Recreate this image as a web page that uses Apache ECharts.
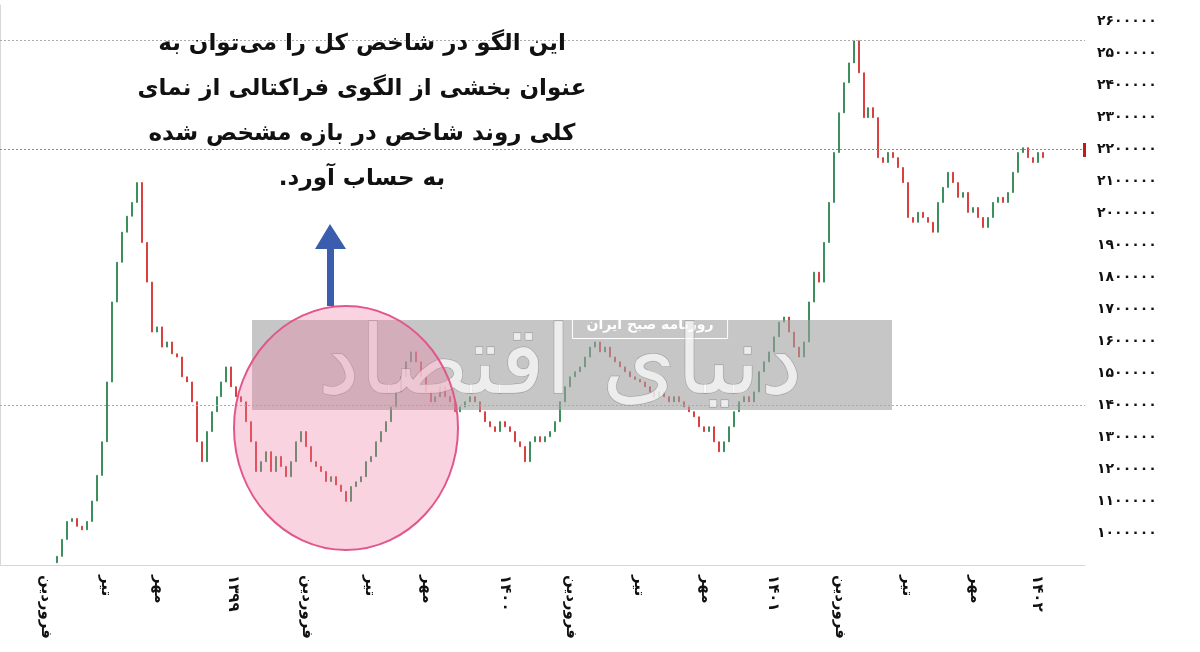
<!DOCTYPE html>
<html lang="fa">
<head>
<meta charset="UTF-8">
<title>شاخص کل</title>
<script src="https://cdn.jsdelivr.net/npm/echarts@6/dist/echarts.min.js"></script>
<style>
html, body {margin: 0; padding: 0; background: #fff;}
#main {width: 1200px; height: 652px;}
</style>
</head>
<body>
<div id="main"></div>
<script>
// closing index values (thousands)
var closes = [927, 980, 1036, 1045, 1021, 1010, 1036, 1100, 1180, 1285, 1472, 1722, 1846, 1940, 1990, 2033, 2095,
  1908, 1784, 1628, 1644, 1581, 1597, 1560, 1550, 1488, 1472, 1410, 1285, 1223, 1317, 1379, 1426, 1472, 1519,
  1457, 1426, 1410, 1348, 1285, 1192, 1223, 1254, 1192, 1239, 1208, 1176, 1223, 1285, 1317, 1270, 1223, 1208,
  1192, 1161, 1176, 1150, 1130, 1099, 1145, 1160, 1176, 1223, 1239, 1285, 1317, 1348, 1394, 1441, 1488, 1535,
  1566, 1535, 1488, 1441, 1410, 1426, 1457, 1426, 1410, 1379, 1394, 1410, 1426, 1410, 1379, 1348, 1332, 1317,
  1348, 1332, 1317, 1285, 1270, 1223, 1285, 1301, 1285, 1301, 1317, 1348, 1410, 1457, 1488, 1504, 1519, 1550,
  1581, 1597, 1566, 1581, 1550, 1535, 1519, 1504, 1488, 1480, 1472, 1457, 1441, 1426, 1441, 1426, 1410, 1426,
  1410, 1394, 1379, 1363, 1332, 1317, 1332, 1285, 1254, 1285, 1332, 1379, 1410, 1426, 1410, 1441, 1504, 1535,
  1566, 1613, 1659, 1675, 1628, 1581, 1550, 1597, 1722, 1815, 1784, 1908, 2033, 2189, 2313, 2407, 2469, 2538,
  2438, 2298, 2329, 2298, 2173, 2158, 2189, 2173, 2142, 2095, 1986, 1971, 2002, 1986, 1971, 1940, 2033, 2080,
  2127, 2095, 2049, 2064, 2002, 2017, 1986, 1955, 1986, 2033, 2049, 2033, 2064, 2127, 2189, 2204, 2173, 2158,
  2189, 2173];
var tickLabels = ['فروردین', 'تیر', 'مهر', '۱۳۹۹', 'فروردین', 'تیر', 'مهر', '۱۴۰۰',
  'فروردین', 'تیر', 'مهر', '۱۴۰۱', 'فروردین', 'تیر', 'مهر', '۱۴۰۲'];
var tickSlots = [9.2, 21.2, 32, 46.8, 61.6, 74.4, 85.8, 101.4, 114.8, 128.4, 141.8, 155.2, 168.8, 182.2, 195.8, 208.4];
var refLines = [2540000, 1400000];
var lastLine = 2200000;

var lead = 11, total = 218;
var cats = [], candles = [];
for (var i = 0; i < total; i++) {
  cats.push(i);
  var k = i - lead;
  if (k < 0 || k >= closes.length) { candles.push('-'); continue; }
  var c = closes[k] * 1000;
  var o = (k > 0 ? closes[k - 1] : closes[k] - 20) * 1000;
  candles.push([o, c, Math.min(o, c), Math.max(o, c)]);
}
var labelMap = {};
tickSlots.forEach(function (s, j) { labelMap[s] = tickLabels[j]; });

function fa(n) {
  return String(n).replace(/\d/g, function (d) { return '۰۱۲۳۴۵۶۷۸۹'[d]; });
}

var chart = echarts.init(document.getElementById('main'));
chart.setOption({
  animation: false,
  grid: {left: 0, right: 115, top: 5, bottom: 87},
  xAxis: [{
    type: 'category', data: cats, show: false
  }, {
    type: 'value', min: 0, max: total, position: 'bottom',
    axisLine: {show: true, lineStyle: {color: '#d8d8d8'}},
    axisTick: {show: false},
    splitLine: {show: false},
    axisLabel: {
      customValues: tickSlots, rotate: -90, margin: 10,
      fontFamily: 'DejaVu Sans', fontSize: 15, color: '#111', fontWeight: 'bold',
      formatter: function (v) { return labelMap[v] || ''; }
    }
  }],
  yAxis: {
    type: 'value', position: 'right', min: 900000, max: 2650000, interval: 100000,
    axisLine: {show: true, lineStyle: {color: '#d8d8d8'}},
    axisTick: {show: false},
    splitLine: {show: false},
    axisLabel: {
      margin: 12, fontFamily: 'DejaVu Sans', fontSize: 14, fontWeight: 'bold', color: '#111',
      formatter: function (v) { return (v < 1000000 || v > 2600000) ? '' : fa(v); }
    }
  },
  series: [{
    type: 'candlestick', xAxisIndex: 0, data: candles, barWidth: 1.5, barMaxWidth: 2,
    itemStyle: {color: '#3e8f5e', color0: '#d9403f', borderColor: '#3e8f5e', borderColor0: '#d9403f', borderWidth: 1},
    markLine: {
      silent: true, symbol: 'none', label: {show: false},
      data: refLines.map(function (v) {
        return {yAxis: v, lineStyle: {color: '#aaa', type: [2, 2], width: 1}};
      }).concat([{yAxis: lastLine, lineStyle: {color: '#d76a6a', type: [2, 2], width: 1}}])
    },
    z: 3
  }],
  graphic: [
    {type: 'rect', shape: {x: 1083, y: 143, width: 3, height: 14}, style: {fill: '#c0191e'}, z: 10},
    {type: 'rect', shape: {x: 252, y: 320, width: 640, height: 90}, style: {fill: 'rgba(160,160,160,0.6)'}, z: 5},
    {type: 'text', left: 572, top: 312, z: 6,
      style: {text: 'روزنامه صبح ایران', fill: '#fff', font: 'bold 14px "DejaVu Sans"', padding: [6, 14],
        borderColor: '#fff', borderWidth: 1}},
    {type: 'text', x: 560, y: 368, z: 6,
      style: {text: 'دنیای اقتصاد', fill: 'rgba(255,255,255,0.7)', stroke: 'rgba(120,120,120,0.6)', lineWidth: 1,
        font: '95px "DejaVu Sans"', align: 'center', verticalAlign: 'middle'}},
    {type: 'ellipse', shape: {cx: 346, cy: 428, rx: 112, ry: 122}, z: 7,
      style: {fill: 'rgba(240,120,165,0.33)', stroke: '#e0578c', lineWidth: 2}},
    {type: 'rect', shape: {x: 327, y: 246, width: 7, height: 60}, style: {fill: '#3a5dae'}, z: 8},
    {type: 'polygon', shape: {points: [[315, 249], [346, 249], [330, 224]]}, style: {fill: '#3a5dae'}, z: 8},
    {type: 'text', x: 362, y: 112, z: 9,
      style: {
        text: 'این الگو در شاخص کل را می‌توان به\nعنوان بخشی از الگوی فراکتالی از نمای\nکلی روند شاخص در بازه مشخص شده\nبه حساب آورد.\u200F',
        fill: '#111', font: 'bold 23px "DejaVu Sans"', lineHeight: 45, align: 'center', verticalAlign: 'middle'
      }}
  ]
});
</script>
</body>
</html>
